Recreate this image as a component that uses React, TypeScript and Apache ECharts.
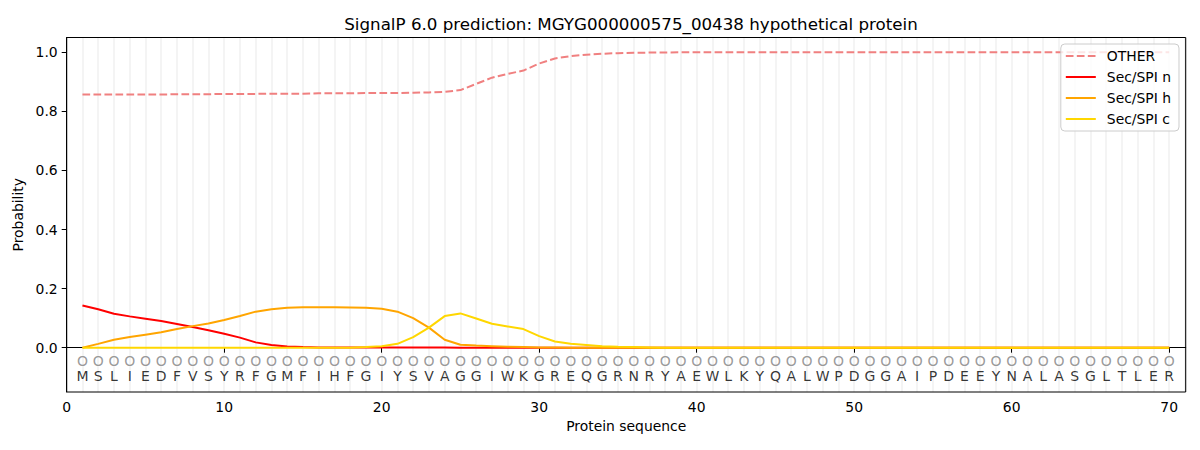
import React, { useEffect, useRef } from "react";
import * as echarts from "echarts";

const TITLE = "SignalP 6.0 prediction: MGYG000000575_00438 hypothetical protein";
const SEQUENCE = "MSLIEDFVSYRFGMFIHFGIYSVAGGIWKGREQGRNRYAEWLKYQALWPDGGAIPDEEYNALASGLTLER".split("");
const PRED_LABELS = SEQUENCE.map(() => "O");

const OTHER = [
  0.857, 0.857, 0.857, 0.857, 0.857, 0.857, 0.858, 0.858, 0.858, 0.859,
  0.859, 0.859, 0.86, 0.86, 0.86, 0.861, 0.861, 0.861, 0.862, 0.862,
  0.862, 0.863, 0.864, 0.866, 0.872, 0.893, 0.914, 0.927, 0.938, 0.962,
  0.979, 0.987, 0.992, 0.995, 0.997, 0.998, 0.999, 0.999, 1, 1,
  1, 1, 1, 1, 1, 1, 1, 1, 1, 1,
  1, 1, 1, 1, 1, 1, 1, 1, 1, 1,
  1, 1, 1, 1, 1, 1, 1, 1, 1, 1,
];
const SEC_N = [
  0.143, 0.13, 0.115, 0.106, 0.098, 0.09, 0.08, 0.07, 0.059, 0.047,
  0.034, 0.018, 0.009, 0.004, 0.002, 0.001, 0.001, 0.001, 0.001, 0.001,
  0.001, 0.001, 0.001, 0.001, 0, 0, 0, 0, 0, 0,
  0, 0, 0, 0, 0, 0, 0, 0, 0, 0,
  0, 0, 0, 0, 0, 0, 0, 0, 0, 0,
  0, 0, 0, 0, 0, 0, 0, 0, 0, 0,
  0, 0, 0, 0, 0, 0, 0, 0, 0, 0,
];
const SEC_H = [
  0.0, 0.013, 0.027, 0.036, 0.044, 0.052, 0.063, 0.073, 0.082, 0.094,
  0.107, 0.122, 0.13, 0.135, 0.137, 0.137, 0.137, 0.136, 0.135, 0.132,
  0.122, 0.1, 0.068, 0.027, 0.01, 0.007, 0.005, 0.003, 0.002, 0.001,
  0.001, 0, 0, 0, 0, 0, 0, 0, 0, 0,
  0, 0, 0, 0, 0, 0, 0, 0, 0, 0,
  0, 0, 0, 0, 0, 0, 0, 0, 0, 0,
  0, 0, 0, 0, 0, 0, 0, 0, 0, 0,
];
const SEC_C = [
  0, 0, 0, 0, 0, 0, 0, 0, 0, 0,
  0, 0, 0, 0, 0, 0, 0, 0, 0.002, 0.005,
  0.013, 0.036, 0.068, 0.107, 0.116, 0.099, 0.081, 0.072, 0.063, 0.039,
  0.021, 0.013, 0.009, 0.005, 0.003, 0.002, 0.001, 0, 0, 0,
  0, 0, 0, 0, 0, 0, 0, 0, 0, 0,
  0, 0, 0, 0, 0, 0, 0, 0, 0, 0,
  0, 0, 0, 0, 0, 0, 0, 0, 0, 0,
];
const Y_TICKS = [0, 0.2, 0.4, 0.6, 0.8, 1.0];
const LABEL_Y = -0.097;
const PRED_Y = -0.046;

const FONT = "DejaVu Sans";

export default function App() {
  const ref = useRef<HTMLDivElement>(null);
  useEffect(() => {
    document.body.style.margin = "0";
    const chart = echarts.init(ref.current!, undefined, { renderer: "svg" });
    const toXY = (arr: number[]) => arr.map((v, i) => [i + 1, v]);
    const lineSeries = (name: string, data: number[], color: string, dashed: boolean) => ({
      name,
      type: "line",
      data: toXY(data),
      showSymbol: false,
      symbol: "none",
      lineStyle: { color, width: 2, type: dashed ? [7.7, 3.3] : "solid" },
      itemStyle: { color },
      z: 3,
    });
    chart.setOption({
      animation: false,
      textStyle: { fontFamily: FONT },
      title: {
        text: TITLE,
        left: 626,
        textAlign: "center",
        top: 10,
        textStyle: { fontFamily: FONT, fontSize: 16.7, fontWeight: "normal", color: "#000" },
      },
      legend: {
        orient: "vertical",
        right: 21,
        top: 44,
        itemWidth: 30,
        itemHeight: 14,
        itemGap: 7,
        padding: [5, 8, 5, 4],
        backgroundColor: "rgba(255,255,255,0.8)",
        borderColor: "#cccccc",
        borderWidth: 1,
        borderRadius: 4,
        itemStyle: { opacity: 0, borderWidth: 0 },
        textStyle: { fontFamily: FONT, fontSize: 13.9, color: "#000", padding: [0, 0, 0, 6] },
        data: ["OTHER", "Sec/SPI n", "Sec/SPI h", "Sec/SPI c"],
      },
      grid: {
        left: 66.7,
        right: 14.3,
        top: 37.5,
        bottom: 58,
        show: true,
        borderColor: "#000",
        borderWidth: 1,
        backgroundColor: "transparent",
      },
      xAxis: [
        {
          type: "value",
          min: 0,
          max: 71.05,
          interval: 10,
          name: "Protein sequence",
          nameLocation: "middle",
          nameGap: 27,
          nameTextStyle: { fontFamily: FONT, fontSize: 13.9, color: "#000" },
          axisLine: { show: true, lineStyle: { color: "#000", width: 1 } },
          axisTick: { show: true, inside: false, length: 5, lineStyle: { color: "#000" } },
          axisLabel: {
            fontFamily: FONT,
            fontSize: 13.9,
            color: "#000",
            margin: 8,
            showMaxLabel: false,
            formatter: (v: number) => (v % 10 === 0 ? String(v) : ""),
          },
          splitLine: { show: false },
        },
        {
          type: "value",
          min: 0,
          max: 71.05,
          interval: 1,
          position: "bottom",
          axisLine: { show: false },
          axisTick: { show: false },
          axisLabel: { show: false },
          splitLine: { show: true, lineStyle: { color: "rgba(0,0,0,0.06)", width: 1.5 } },
        },
      ],
      yAxis: {
        type: "value",
        min: -0.15,
        max: 1.05,
        name: "Probability",
        nameLocation: "middle",
        nameGap: 37,
        nameTextStyle: { fontFamily: FONT, fontSize: 13.9, color: "#000" },
        axisLine: { show: true, lineStyle: { color: "#000", width: 1 } },
        axisTick: { show: true, inside: false, length: 5, customValues: Y_TICKS, lineStyle: { color: "#000" } },
        axisLabel: {
          fontFamily: FONT,
          fontSize: 13.9,
          color: "#000",
          margin: 9,
          customValues: Y_TICKS,
          formatter: (v: number) => v.toFixed(1),
        },
        splitLine: { show: false },
      },
      series: [
        lineSeries("OTHER", OTHER, "#f08080", true),
        lineSeries("Sec/SPI n", SEC_N, "#ff0000", false),
        lineSeries("Sec/SPI h", SEC_H, "#ffa500", false),
        lineSeries("Sec/SPI c", SEC_C, "#ffd700", false),
        {
          name: "pred",
          type: "scatter",
          symbolSize: 0,
          data: PRED_LABELS.map((l, i) => [i + 1, PRED_Y, l]),
          label: {
            show: true,
            position: "inside",
            formatter: (p: any) => p.data[2],
            fontFamily: FONT,
            fontSize: 14,
            color: "#808080",
          },
          z: 4,
        },
        {
          name: "seq",
          type: "scatter",
          symbolSize: 0,
          data: SEQUENCE.map((l, i) => [i + 1, LABEL_Y, l]),
          label: {
            show: true,
            position: "inside",
            formatter: (p: any) => p.data[2],
            fontFamily: FONT,
            fontSize: 14,
            color: "#000",
          },
          z: 4,
        },
      ],
    });
    return () => chart.dispose();
  }, []);
  return <div ref={ref} style={{ width: 1200, height: 450 }} />;
}
